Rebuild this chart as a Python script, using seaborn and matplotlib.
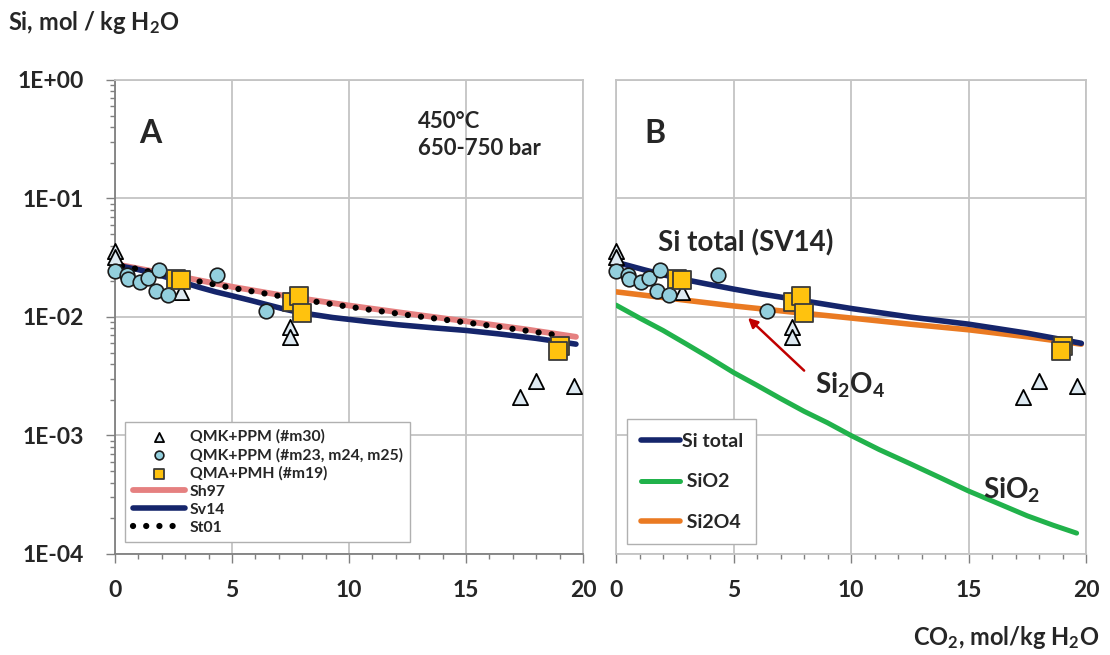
import matplotlib
matplotlib.use("Agg")
import matplotlib.pyplot as plt
import matplotlib.ticker as mticker
import seaborn as sns

# measured points (same sample set shown in both panels)
tri_x = [0, 0, 2.8, 7.5, 7.5, 17.3, 18.0, 19.6]
tri_y = [0.036, 0.032, 0.0163, 0.0083, 0.0068, 0.0021, 0.0029, 0.0026]

circ_x = [0, 0.5, 0.55, 1.07, 1.4, 1.88, 1.75, 2.26, 4.35, 6.44]
circ_y = [0.0244, 0.0226, 0.0209, 0.0197, 0.0214, 0.0249, 0.0166, 0.0154, 0.0226, 0.0112]

sq_x = [2.6, 2.8, 7.55, 7.85, 8.0, 19.0, 18.95]
sq_y = [0.021, 0.0205, 0.0134, 0.0151, 0.0108, 0.0057, 0.0052]

# model curves, panel A
sh97_x = [0, 2.5, 5, 7.5, 10, 12.5, 15, 17.5, 19.7]
sh97_y = [0.028, 0.0225, 0.018, 0.0148, 0.0125, 0.0107, 0.0092, 0.0079, 0.0068]

sv14_x = [0, 1, 1.9, 2.8, 3.6, 4.3, 5.0, 5.8, 6.5, 7.2, 7.9, 9.3, 10.7, 12.1, 13.6, 15.0, 16.4, 18.0, 19.7]
sv14_y = [0.0275, 0.0251, 0.0226, 0.0199, 0.0178, 0.0163, 0.0151, 0.0138, 0.0127, 0.0117, 0.0109, 0.0099, 0.0092, 0.0086, 0.0081, 0.0077, 0.0072, 0.0066, 0.0059]

st01_x = [0.3, 2.5, 5, 7.5, 10, 12.5, 15, 17.5, 19.2]
st01_y = [0.027, 0.022, 0.0176, 0.0145, 0.0122, 0.0104, 0.009, 0.0077, 0.0069]

# model curves, panel B
sitot_x = [0, 1.2, 2.5, 3.8, 5, 6.2, 7.5, 8.8, 10, 11.2, 12.5, 13.8, 15, 16.2, 17.5, 18.7, 19.8]
sitot_y = [0.029, 0.025, 0.0215, 0.0191, 0.0172, 0.0156, 0.0142, 0.0129, 0.0118, 0.0109, 0.0100, 0.0093, 0.0087, 0.0080, 0.0073, 0.0066, 0.006]

si2o4_x = [0, 2.5, 5, 7.5, 10, 12.5, 15, 17.5, 19.8]
si2o4_y = [0.0163, 0.0142, 0.0124, 0.011, 0.0098, 0.0087, 0.0078, 0.0068, 0.0059]

sio2_x = [0, 1, 2, 3, 4, 5, 6, 7, 8, 9, 10, 11.2, 12.5, 13.8, 15, 16.2, 17.5, 18.6, 19.6]
sio2_y = [0.0126, 0.0098, 0.0077, 0.0059, 0.0045, 0.0034, 0.00265, 0.00205, 0.0016, 0.00128, 0.00100, 0.00076, 0.00058, 0.00044, 0.00034, 0.00027, 0.00021, 0.000175, 0.00015]

xticks = [0, 5, 10, 15, 20]
yticks = [1e-4, 1e-3, 1e-2, 1e-1, 1e0]

sns.set_style("white")
plt.rcParams["font.family"] = ["Lato", "DejaVu Sans"]
plt.rcParams["font.weight"] = "bold"
plt.rcParams["mathtext.fontset"] = "custom"
plt.rcParams["mathtext.rm"] = "Lato:bold"
plt.rcParams["mathtext.it"] = "Lato:bold"
plt.rcParams["mathtext.bf"] = "Lato:bold"

NAVY = "#15256b"
PINK = "#e58080"
ORANGE = "#ea7a22"
GREEN = "#21b24b"
GRID = "#c4c4c4"

fig = plt.figure(figsize=(11.1, 6.55), dpi=100)
axA = fig.add_axes([0.1036, 0.1542, 0.4216, 0.7237])
axB = fig.add_axes([0.555, 0.1542, 0.4234, 0.7237])


def add_points(ax, with_labels):
    sns.scatterplot(x=tri_x, y=tri_y, ax=ax, marker="^", s=120, color="#deeaf2",
                    edgecolor="black", linewidth=1.3, zorder=6, clip_on=False,
                    label="QMK+PPM (#m30)" if with_labels else None)
    sns.scatterplot(x=circ_x, y=circ_y, ax=ax, marker="o", s=110, color="#93cfdd",
                    edgecolor="#1a1a1a", linewidth=1.2, zorder=6, clip_on=False,
                    label="QMK+PPM (#m23, m24, m25)" if with_labels else None)
    sns.scatterplot(x=sq_x, y=sq_y, ax=ax, marker="s", s=150, color="#ffc20e",
                    edgecolor="#3a3a3a", linewidth=1.3, zorder=7, clip_on=False,
                    label="QMA+PMH (#m19)" if with_labels else None)


def style_axis(ax, left_labels):
    ax.set_yscale("log")
    ax.set_xlim(0, 20)
    ax.set_ylim(1e-4, 1)
    ax.set_xticks(xticks)
    ax.set_yticks(yticks)
    ax.xaxis.set_minor_locator(mticker.MultipleLocator(1))
    ax.yaxis.set_minor_locator(mticker.LogLocator(base=10, subs=range(2, 10)))
    ax.yaxis.set_minor_formatter(mticker.NullFormatter())
    ax.yaxis.set_major_formatter(mticker.FuncFormatter(lambda v, p: f"{v:.0E}"))
    ax.grid(True, which="major", color=GRID, linewidth=1.3)
    ax.set_axisbelow(True)
    for s in ax.spines.values():
        s.set_color(GRID)
        s.set_linewidth(1.3)
    ax.tick_params(axis="x", which="major", direction="out", length=6.5, width=1,
                   color="#808080", labelsize=16.5, pad=12, bottom=True)
    ax.tick_params(axis="x", which="minor", direction="out", length=3.5, width=1,
                   color="#808080", bottom=True)
    if left_labels:
        ax.spines["left"].set_color("#808080")
        ax.spines["bottom"].set_color("#808080")
        ax.tick_params(axis="y", which="major", direction="out", length=6.5, width=1,
                       color="#808080", labelsize=16.5, pad=16, left=True)
        ax.tick_params(axis="y", which="minor", direction="out", length=3.5, width=1,
                       color="#808080", left=True)
    else:
        ax.tick_params(axis="y", which="both", left=False, labelleft=False)
    ax.set_xlabel("")
    ax.set_ylabel("")


# ---- panel A
sns.lineplot(x=sh97_x, y=sh97_y, ax=axA, color=PINK, linewidth=4.2, sort=False,
             estimator=None, label="Sh97", zorder=3)
sns.lineplot(x=sv14_x, y=sv14_y, ax=axA, color=NAVY, linewidth=4, sort=False,
             estimator=None, label="Sv14", zorder=3)
sns.lineplot(x=st01_x, y=st01_y, ax=axA, color="black", linewidth=4.5, sort=False,
             estimator=None, label="St01", zorder=4,
             linestyle=(0, (0.01, 2.1)), dash_capstyle="round")
add_points(axA, True)
style_axis(axA, True)

h, l = axA.get_legend_handles_labels()
order = [l.index(n) for n in ["QMK+PPM (#m30)", "QMK+PPM (#m23, m24, m25)",
                              "QMA+PMH (#m19)", "Sh97", "Sv14", "St01"]]
legA = axA.legend([h[i] for i in order], [l[i] for i in order], loc="lower left",
                  bbox_to_anchor=(0.005, 0.008), fontsize=11.3, markerscale=0.6,
                  handlelength=3.3, labelspacing=0.25, borderpad=0.5,
                  handletextpad=0.3, fancybox=False, framealpha=1,
                  edgecolor="#b0b0b0")
legA.get_frame().set_linewidth(1)

axA.text(0.075, 0.888, "A", transform=axA.transAxes, fontsize=23,
         fontweight="bold", ha="center", va="center")
axA.text(0.647, 0.884, "450°C\n650-750 bar", transform=axA.transAxes,
         fontsize=16, fontweight="bold", ha="left", va="center", linespacing=1.4)

# ---- panel B
sns.lineplot(x=sitot_x, y=sitot_y, ax=axB, color=NAVY, linewidth=4, sort=False,
             estimator=None, label="Si total", zorder=4)
sns.lineplot(x=sio2_x, y=sio2_y, ax=axB, color=GREEN, linewidth=3.6, sort=False,
             estimator=None, label=" SiO2", zorder=3)
sns.lineplot(x=si2o4_x, y=si2o4_y, ax=axB, color=ORANGE, linewidth=4, sort=False,
             estimator=None, label=" Si2O4", zorder=3)
add_points(axB, False)
style_axis(axB, False)

legB = axB.legend(loc="lower left", bbox_to_anchor=(0.003, 0.0), fontsize=14,
                  handlelength=2.0, labelspacing=1.2, borderpad=0.7,
                  handletextpad=0.1, fancybox=False, framealpha=1,
                  edgecolor="#b0b0b0")
legB.get_frame().set_linewidth(1)

axB.text(0.083, 0.888, "B", transform=axB.transAxes, fontsize=23,
         fontweight="bold", ha="center", va="center")
axB.text(0.089, 0.656, "Si total (SV14)", transform=axB.transAxes, fontsize=20,
         fontweight="bold", ha="left", va="center")
axB.text(0.423, 0.357, "Si$_2$O$_4$", transform=axB.transAxes, fontsize=20,
         fontweight="bold", ha="left", va="center")
axB.text(0.781, 0.135, "SiO$_2$", transform=axB.transAxes, fontsize=20,
         fontweight="bold", ha="left", va="center")
axB.annotate("", xy=(5.53, 0.0102), xytext=(8.09, 0.0034),
             arrowprops=dict(arrowstyle="-|>", color="#c00000", lw=1.8,
                             mutation_scale=14), zorder=8)

fig.text(0.007, 0.966, "Si, mol / kg H$_2$O", fontsize=17, fontweight="bold",
         ha="left", va="center")
fig.text(0.99, 0.027, "CO$_2$, mol/kg H$_2$O", fontsize=17, fontweight="bold",
         ha="right", va="center")

fig.savefig("out.png", dpi=100)
